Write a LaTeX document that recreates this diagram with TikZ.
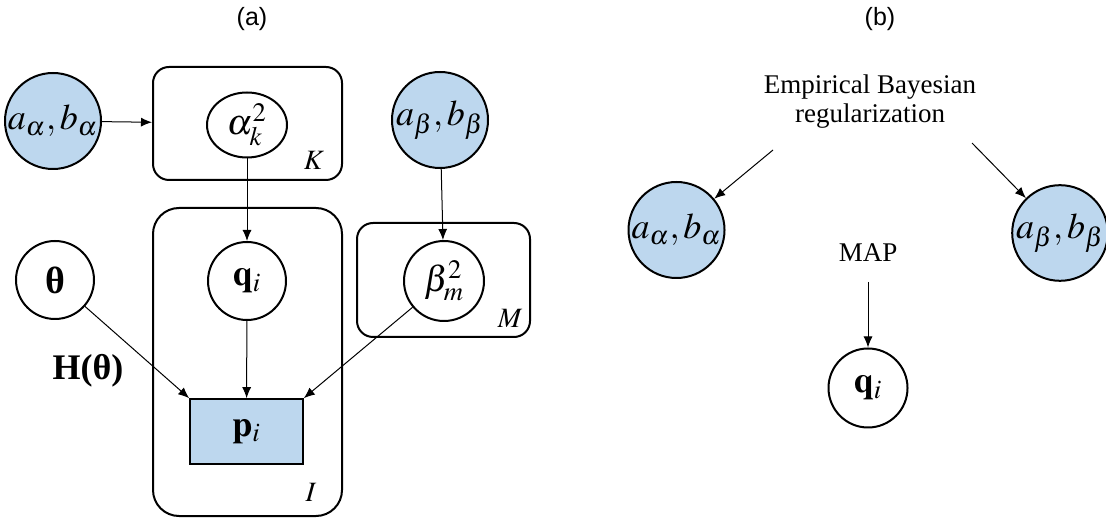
\documentclass[tikz,border=0pt]{standalone}
\usepackage{mathptmx}
\usepackage[no-math]{fontspec}
\setmainfont{Liberation Serif}
\newfontfamily\panelfont{Liberation Sans}
\usetikzlibrary{arrows.meta,shapes.geometric}
\definecolor{obsblue}{HTML}{BDD7EE}
\tikzset{
	var/.style={draw, circle, line width=1pt, inner sep=0pt, minimum size=40pt},
	hyper/.style={var, fill=obsblue, minimum size=48pt},
	plate/.style={draw, rounded corners=8pt, line width=1pt, inner sep=0pt},
	arr/.style={-{Latex[length=5.5pt,width=4.5pt]}, line width=0.5pt},
	platelab/.style={font=\fontsize{14}{16}\selectfont},
}
\newcommand{\bigmath}[1]{\fontsize{18}{21}\selectfont$#1$}
\newcommand{\midmath}[1]{\fontsize{18}{21}\selectfont$#1$}
\newcommand{\boldvec}[1]{\fontsize{18}{21}\selectfont$\mathbf{#1}_i$}

\begin{document}
\begin{tikzpicture}[x=0.5pt, y=-0.5pt]
			%%%%% START %%%%%
			\useasboundingbox (0, 0) rectangle (1106, 522);
			
			\node[font=\panelfont\fontsize{12.5}{14}\selectfont] (capA) at (252, 19) {(a)};
			\node[font=\panelfont\fontsize{12.5}{14}\selectfont] (capB) at (880, 19) {(b)};
			
			% plates
			\node[plate, minimum width=94.5pt, minimum height=56.5pt] (plateK) at (247.5, 123.5) {};
			\node[plate, rounded corners=13pt, minimum width=94.5pt, minimum height=154pt] (plateI) at (247.5, 362) {};
			\node[plate, minimum width=86.5pt, minimum height=57pt] (plateM) at (443.5, 280) {};
			\node[platelab] (labK) at (314, 160) {$K$};
			\node[platelab] (labI) at (311, 492) {$I$};
			\node[platelab] (labM) at (510, 318) {$M$};
			
			% panel (a)
			\node[hyper] (haA) at (53, 121) {\bigmath{a_\alpha,b_\alpha}};
			\node[var, ellipse, minimum width=40pt, minimum height=32.5pt] (alphaK) at (247, 125) {\midmath{\alpha_k^2}};
			\node[hyper] (hbA) at (440, 120) {\bigmath{a_\beta,b_\beta}};
			\node[var, minimum size=39pt] (theta) at (55, 280) {\fontsize{19}{22}\selectfont\textbf{θ}};
			\node[var, minimum size=39pt] (qA) at (247, 281) {\boldvec{q}};
			\node[var] (beta) at (444, 281) {\midmath{\beta_m^2}};
			\node[draw, fill=obsblue, line width=0.8pt, minimum width=56.5pt, minimum height=32.5pt] (pA) at (246.5, 431.5) {\boldvec{p}};
			\node (Hth) at (88, 371) {\fontsize{18}{21}\selectfont\textbf{H(θ)}};
			
			\draw[arr] (haA) -- (plateK);
			\draw[arr] (alphaK) -- (qA);
			\draw[arr] (qA) -- (pA);
			\draw[arr] (hbA) -- (beta);
			\draw[arr] (theta) -- (pA.north west);
			\draw[arr] (beta) -- (pA.north east);
			
			% panel (b)
			\node[align=center, font=\fontsize{13.5}{14.5}\selectfont] (ebr) at (870, 102) {Empirical Bayesian\\regularization};
			\node[hyper] (haB) at (676.5, 230) {\bigmath{a_\alpha,b_\alpha}};
			\node[hyper, minimum size=46pt] (hbB) at (1060, 233) {\bigmath{a_\beta,b_\beta}};
			\node[font=\fontsize{13.5}{15}\selectfont] (map) at (868, 253) {MAP};
			\node[var, minimum size=39.5pt] (qB) at (868, 388) {\boldvec{q}};
			
			\coordinate (ebrL) at (773, 150);
			\coordinate (ebrR) at (972, 143);
			\coordinate (mapS) at (868, 282);
			\draw[arr] (ebrL) -- (haB);
			\draw[arr] (ebrR) -- (hbB);
			\draw[arr] (mapS) -- (qB);
			
			%%%%% END %%%%%
\end{tikzpicture}
\end{document}
